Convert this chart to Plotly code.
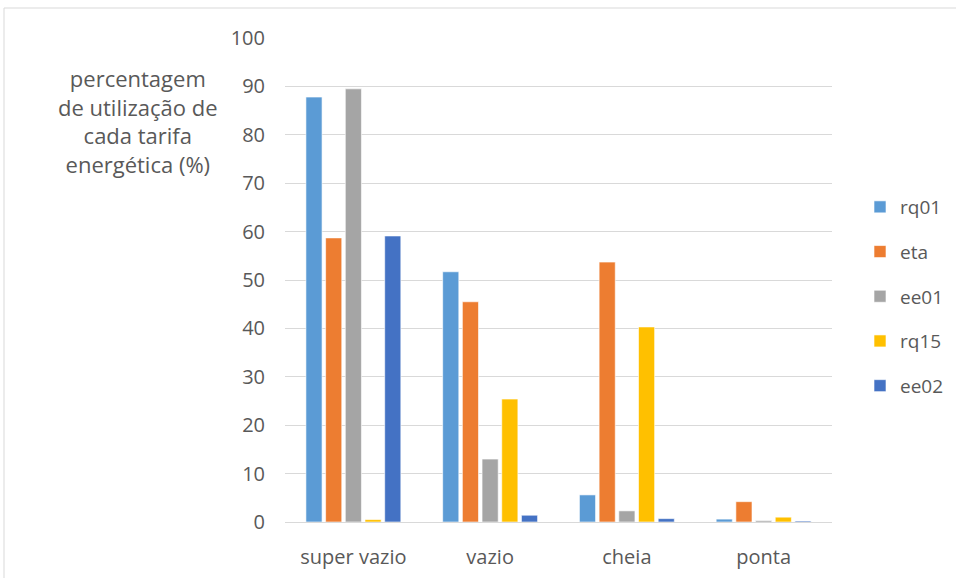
import plotly.graph_objects as go

# Tariff periods and share of use per tariff (%)
categories = ["super vazio", "vazio", "cheia", "ponta"]
series_names = ["rq01", "eta", "ee01", "rq15", "ee02"]
rq01 = [87.8, 51.7, 5.6, 0.6]
eta = [58.7, 45.5, 53.7, 4.2]
ee01 = [89.5, 13.0, 2.3, 0.3]
rq15 = [0.5, 25.4, 40.3, 1.0]
ee02 = [59.1, 1.4, 0.7, 0.2]
y_ticks = [0, 10, 20, 30, 40, 50, 60, 70, 80, 90, 100]

values = [rq01, eta, ee01, rq15, ee02]
colors = ["#5B9BD5", "#ED7D31", "#A5A5A5", "#FFC000", "#4472C4"]

FONT = "Open Sans, sans-serif"
TXT = "#595959"

fig = go.Figure()
for name, vals, col in zip(series_names, values, colors):
    fig.add_trace(go.Bar(
        x=categories, y=vals, name=name, legendgroup=name,
        marker=dict(color=col, line=dict(color="rgba(255,255,255,0.6)", width=1)),
    ))

W, H = 956, 578
L, R, T, B = 285, 124, 38, 56
pw, ph = W - L - R, H - T - B

def px(x):
    return (x - L) / pw

def py(y):
    return (H - B - y) / ph

fig.update_layout(
    width=W, height=H,
    margin=dict(l=L, r=R, t=T, b=B, autoexpand=False),
    paper_bgcolor="white", plot_bgcolor="white",
    barmode="group", bargap=0.28, bargroupgap=0.18,
    font=dict(family=FONT, color=TXT, size=19),
    showlegend=True,
    legend=dict(
        x=px(860), y=py(188), xanchor="left", yanchor="top",
        font=dict(size=19, color=TXT), tracegroupgap=17,
        itemwidth=30, bgcolor="rgba(0,0,0,0)",
    ),
    xaxis=dict(
        showgrid=False, showline=True, linecolor="#D9D9D9", linewidth=1,
        ticks="", tickfont=dict(size=20, color=TXT), ticklabelstandoff=17,
    ),
    yaxis=dict(
        range=[0, 100], tickvals=y_ticks, showgrid=True, gridcolor="#D9D9D9",
        gridwidth=1, zeroline=False, showline=False, ticks="",
        tickfont=dict(size=20, color=TXT), ticklabelstandoff=19,
    ),
    annotations=[dict(
        text="percentagem<br>de utilização de<br>cada tarifa<br>energética (%)",
        x=px(138), y=py(121), xref="paper", yref="paper",
        xanchor="center", yanchor="middle", showarrow=False, align="center",
        font=dict(size=22, color=TXT, family=FONT),
    )],
    shapes=[
        dict(type="line", xref="paper", yref="paper",
             x0=px(4), x1=px(960), y0=py(8), y1=py(8),
             line=dict(color="#D9D9D9", width=1)),
        dict(type="line", xref="paper", yref="paper",
             x0=px(4), x1=px(4), y0=py(8), y1=py(585),
             line=dict(color="#D9D9D9", width=1)),
    ],
)

fig.write_html("out.html")
